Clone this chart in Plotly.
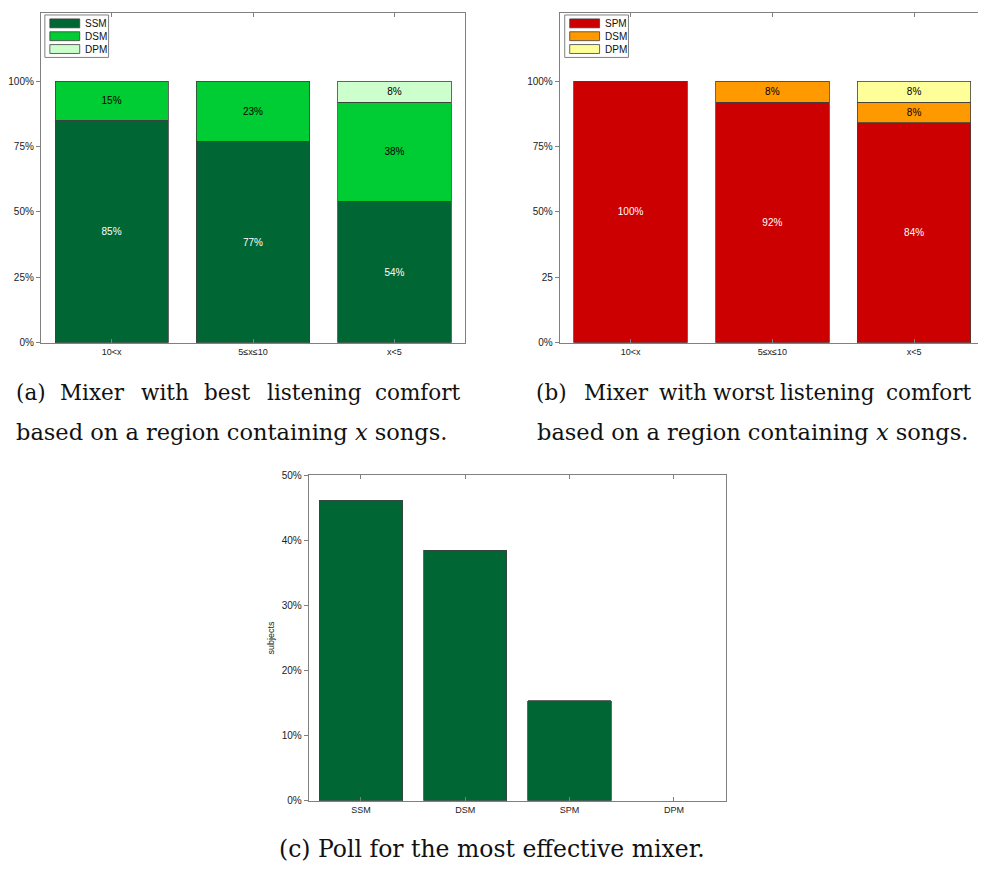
import plotly.graph_objects as go

# the page body has an 8px margin, so the figure starts 8px in from the window edge
OFF = 8
W, H = 986 - OFF, 873 - OFF

# ---------------- data ----------------
regions = ["10<x", "5\u2264x\u226410", "x<5"]

best_series = ["SSM", "DSM", "DPM"]
best_ssm = [85, 77, 54]
best_dsm = [15, 23, 38]
best_dpm = [0, 0, 8]
best_colors = ["#006633", "#00CC33", "#CCFFCC"]
best_textcolors = ["white", "black", "black"]

worst_series = ["SPM", "DSM", "DPM"]
worst_spm = [100, 92, 84]
worst_dsm = [0, 8, 8]
worst_dpm = [0, 0, 8]
worst_colors = ["#CC0000", "#FF9900", "#FFFF99"]
worst_textcolors = ["white", "black", "black"]

poll_mixers = ["SSM", "DSM", "SPM", "DPM"]
poll_share = [46.15, 38.46, 15.38, 0]
poll_color = "#006633"

ticks_a = ["0%", "25%", "50%", "75%", "100%"]
ticks_b = ["0%", "25", "50%", "75%", "100%"]
ticks_c = ["0%", "10%", "20%", "30%", "40%", "50%"]

cap_a1 = ["(a)", "Mixer", "with", "best", "listening", "comfort"]
cap_b1 = ["(b)", "Mixer", "with", "worst", "listening", "comfort"]
cap_2 = "based on a region containing <i>x</i> songs."
cap_c = "(c) Poll for the most effective mixer."

# ---------------- helpers ----------------
def px(x):
    return min(max((x - OFF) / W, 0), 1)

def py(y):
    return min(max(1 - (y - OFF) / H, 0), 1)

FONT = "Liberation Sans, Arial, sans-serif"
SERIF = "DejaVu Serif, serif"
AX = "#808080"

fig = go.Figure()

def add_stack(xa, ya, series, values, colors, tcolors):
    for name, vals, col, tc in zip(series, values, colors, tcolors):
        fig.add_trace(go.Bar(
            x=regions, y=vals, name=name, xaxis=xa, yaxis=ya,
            marker=dict(color=col, line=dict(color="#404040",
                                             width=[0.8 if v > 0 else 0 for v in vals])),
            text=[f"{v}%" if v > 0 else "" for v in vals],
            textposition="inside", insidetextanchor="middle",
            textfont=dict(family=FONT, size=10, color=tc),
            showlegend=False, width=0.8,
        ))

add_stack("x", "y", best_series, [best_ssm, best_dsm, best_dpm], best_colors, best_textcolors)
add_stack("x2", "y2", worst_series, [worst_spm, worst_dsm, worst_dpm], worst_colors, worst_textcolors)

fig.add_trace(go.Bar(
    x=poll_mixers, y=poll_share, xaxis="x3", yaxis="y3",
    marker=dict(color=poll_color, line=dict(color="#404040",
                                            width=[0.8 if v > 0 else 0 for v in poll_share])),
    width=0.8, showlegend=False,
))

xcommon = dict(showgrid=False, zeroline=False, showline=True, linecolor=AX, linewidth=1,
               mirror="ticks", ticks="inside", ticklen=4, tickcolor=AX,
               tickfont=dict(family=FONT, size=9, color="#222"), type="category")
ycommon = dict(showgrid=False, zeroline=False, showline=True, linecolor=AX, linewidth=1,
               mirror=True, ticks="outside", ticklen=4, tickcolor=AX,
               tickfont=dict(family=FONT, size=10, color="#222"))

TOP_AB, BOT_AB, Y100 = 8, 342, 77
ytop = (BOT_AB - TOP_AB) / (BOT_AB - Y100) * 100

fig.update_layout(
    width=W, height=H, margin=dict(l=0, r=0, t=0, b=0),
    paper_bgcolor="white", plot_bgcolor="white",
    barmode="stack", bargap=0.2,
    xaxis=dict(domain=[px(37), px(463)], anchor="y", range=[-0.5, 2.5], **xcommon),
    yaxis=dict(domain=[py(BOT_AB), py(TOP_AB)], anchor="x", range=[0, ytop],
               tickvals=[0, 25, 50, 75, 100], ticktext=ticks_a, **ycommon),
    xaxis2=dict(domain=[px(558), px(985)], anchor="y2", range=[-0.5, 2.5], **xcommon),
    yaxis2=dict(domain=[py(BOT_AB), py(TOP_AB)], anchor="x2", range=[0, ytop],
                tickvals=[0, 25, 50, 75, 100], ticktext=ticks_b, **ycommon),
    xaxis3=dict(domain=[px(306), px(725)], anchor="y3", range=[-0.5, 3.5], **xcommon),
    yaxis3=dict(domain=[py(806), py(476)], anchor="x3", range=[0, 50],
                tickvals=[0, 10, 20, 30, 40, 50], ticktext=ticks_c,
                title=dict(text="subjects", font=dict(family=FONT, size=9, color="#222"), standoff=5),
                **ycommon),
)

shapes = []
annotations = []

def legend(x0, y0, series, colors):
    shapes.append(dict(type="rect", xref="paper", yref="paper",
                       x0=px(x0), x1=px(x0 + 64), y0=py(y0), y1=py(y0 + 43),
                       line=dict(color=AX, width=1), fillcolor="white"))
    for i, (name, col) in enumerate(zip(series, colors)):
        top = y0 + 4 + i * 13
        shapes.append(dict(type="rect", xref="paper", yref="paper",
                           x0=px(x0 + 5), x1=px(x0 + 35), y0=py(top), y1=py(top + 9),
                           line=dict(color="#404040", width=0.8), fillcolor=col))
        annotations.append(dict(xref="paper", yref="paper", x=px(x0 + 38), y=py(top + 4.5),
                                text=name, showarrow=False, xanchor="left", yanchor="middle",
                                font=dict(family=FONT, size=10, color="#111")))

legend(41, 10, best_series, best_colors)
legend(563, 10, worst_series, worst_colors)

cap_font = dict(family=SERIF, size=22.5, color="#111")
cap_font1 = dict(family=SERIF, size=21.5, color="#111")
cap_fontc = dict(family=SERIF, size=23.5, color="#111")

def word_line(words, centers, y):
    for w, x in zip(words, centers):
        annotations.append(dict(xref="paper", yref="paper", x=px(x), y=py(y), text=w,
                                showarrow=False, xanchor="center", yanchor="middle", font=cap_font1))

word_line(cap_a1, [27, 89, 162, 224, 312, 416], 392)
word_line(cap_b1, [550, 615, 682, 743, 827, 929], 392)
for x in (10, 533):
    annotations.append(dict(xref="paper", yref="paper", x=px(x), y=py(432), text=cap_2,
                            showarrow=False, xanchor="left", yanchor="middle", font=cap_font))
annotations.append(dict(xref="paper", yref="paper", x=px(490), y=py(855), text=cap_c,
                        showarrow=False, xanchor="center", yanchor="middle", font=cap_fontc))

fig.update_layout(shapes=shapes, annotations=annotations)
fig.write_html("out.html")
